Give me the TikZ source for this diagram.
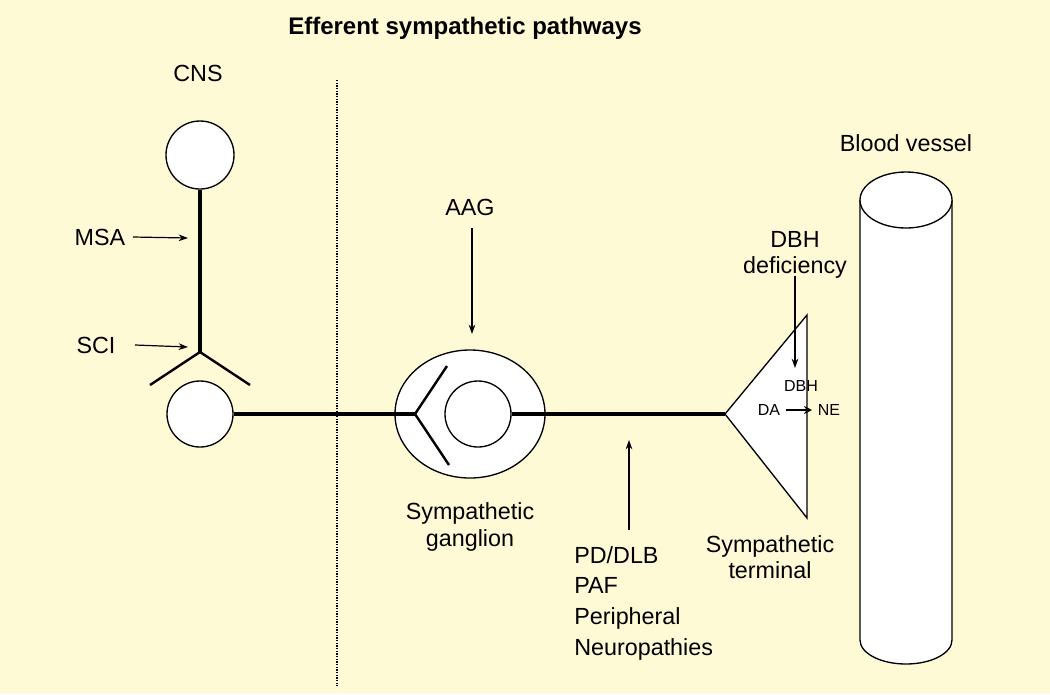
\documentclass[tikz,border=0pt]{standalone}
\usepackage{fontspec}
\setmainfont{Liberation Sans}
\usetikzlibrary{arrows.meta,shapes.geometric}
\definecolor{bgyellow}{HTML}{FFFAD6}
\begin{document}
\begin{tikzpicture}[x=0.75pt,y=-0.75pt,
  txt/.style={font=\fontsize{17.5}{20}\selectfont, inner sep=0pt},
  smalltxt/.style={font=\fontsize{12}{14}\selectfont, inner sep=0pt},
  nerve/.style={line width=2.6pt},
  pointer/.style={-{Stealth[length=7pt,width=5pt]}, line width=0.9pt},
  cell/.style={draw, line width=1pt, fill=white}
]
\fill[bgyellow] (0,0) rectangle (1050,694);
\useasboundingbox (0,0) rectangle (1050,694);

\node[txt, font=\bfseries\fontsize{18}{20}\selectfont] (title) at (465,28) {Efferent sympathetic pathways};
\draw[densely dotted, line width=1pt] (337,80) -- (337,686);

% central neurons
\node[txt] (cns) at (198,73) {CNS};
\node[cell, circle, minimum size=68pt*0.75] (upper) at (200,155) {};
\node[cell, circle, minimum size=66pt*0.75] (lower) at (200,414) {};
\coordinate (fork) at (200,352);
\draw[nerve] (upper.south) -- (fork);
\draw[line width=1.8pt] (150,385) -- (fork) -- (250,385);

\node[txt] (msa) at (100,237) {MSA};
\coordinate (msaend) at (188,238);
\draw[pointer] (133,237) -- (msaend);
\node[txt] (sci) at (96,345) {SCI};
\coordinate (sciend) at (188,347);
\draw[pointer] (135,345) -- (sciend);

% ganglion
\node[cell, ellipse, minimum width=150pt*0.75, minimum height=128pt*0.75] (ganglion) at (470,414) {};
\node[cell, circle, minimum size=66pt*0.75] (post) at (478,414) {};
\coordinate (gfork) at (415,414);
\draw[line width=1.8pt] (447,366) -- (gfork) -- (449,465);
\draw[nerve] (lower.east) -- (gfork);
\coordinate (term) at (725,414);
\draw[nerve] (post.east) -- (term);

\node[txt] (aag) at (470,207) {AAG};
\coordinate (aagend) at (472,334);
\draw[pointer] (472,228) -- (aagend);

\node[txt, align=center] (glabel) at (470,527) {Sympathetic\\ganglion};

% peripheral lesions
\coordinate (pdend) at (629,440);
\draw[pointer] (629,530) -- (pdend);
\node[txt, align=left, anchor=north west, font=\fontsize{17.5}{23}\selectfont] (pd) at (574,546) {PD/DLB\\PAF\\Peripheral\\Neuropathies};

% terminal
\draw[line width=1pt, fill=white] (term) -- (807,315) -- (807,518) -- cycle;
\node[txt, align=center] (tlabel) at (770,557) {Sympathetic\\terminal};
\node[txt, align=center] (dbh) at (795,255) {DBH\\deficiency};
\coordinate (dbhend) at (795,368);
\draw[pointer] (795,276) -- (dbhend);
\node[smalltxt] (enz) at (801,386) {DBH};
\node[smalltxt] (da) at (769,410) {DA};
\node[smalltxt] (ne) at (829,410) {NE};
\draw[-{Stealth[length=6pt,width=6pt]}, line width=1.8pt] (786,410) -- (812,410);

% blood vessel
\node[txt] (vessel) at (906,143) {Blood vessel};
\draw[line width=1pt, fill=white] (860,200) -- (860,640) arc[start angle=180, end angle=0, x radius=46, y radius=24] -- (952,200);
\draw[line width=1pt, fill=white] (906,200) ellipse[x radius=46, y radius=28];
\end{tikzpicture}
\end{document}
